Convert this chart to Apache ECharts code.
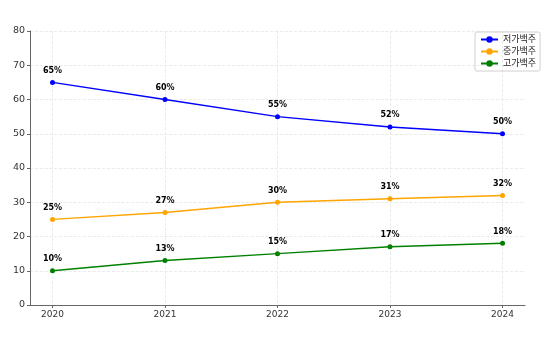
<!DOCTYPE html>
<html><head><meta charset="utf-8">
<script src="https://cdn.jsdelivr.net/npm/echarts@6/dist/echarts.min.js"></script>
<style>html,body{margin:0;padding:0;background:#fff}#c{width:553px;height:339px}</style>
</head><body><div id="c"></div>
<script>
const years = [2020, 2021, 2022, 2023, 2024];
const seriesNames = ['저가백주', '중가백주', '고가백주'];
const lowPrice = [65, 60, 55, 52, 50];
const midPrice = [25, 27, 30, 31, 32];
const highPrice = [10, 13, 15, 17, 18];
const yTicks = [0, 10, 20, 30, 40, 50, 60, 70, 80];
const colors = ['#0000ff', '#ffa500', '#008000'];
const font = '"DejaVu Sans", "Noto Sans CJK KR", sans-serif';

const chart = echarts.init(document.getElementById('c'));
function mk(name, vals, color) {
  return {
    name, type: 'line', data: years.map((y, i) => [y, vals[i]]),
    symbol: 'circle', symbolSize: 5, color,
    lineStyle: { width: 1.5, color }, itemStyle: { color },
    label: { show: true, position: 'top', distance: 5, formatter: p => p.value[1] + '%',
      color: '#000', fontWeight: 'bold', fontSize: 8, fontFamily: font },
    animation: false
  };
}
chart.setOption({
  animation: false,
  grid: { left: 30, right: 28, top: 31, bottom: 34 },
  legend: {
    left: 475, top: 32, orient: 'vertical', itemGap: 3,
    itemWidth: 17, itemHeight: 8,
    borderColor: '#d0d0d0', borderWidth: 1, borderRadius: 2, padding: [3, 4, 3, 5],
    textStyle: { fontSize: 9, fontFamily: font, color: '#222' },
    data: seriesNames
  },
  xAxis: {
    type: 'value', min: 2019.8, max: 2024.2,
    axisLine: { lineStyle: { color: '#666', width: 1 } },
    axisTick: { show: true, length: 3, lineStyle: { color: '#666' }, customValues: years },
    axisLabel: { color: '#333', fontSize: 9, fontFamily: font, customValues: years, margin: 5,
      formatter: v => String(v) },
    splitLine: { show: true, lineStyle: { color: '#e6e6e6', type: 'dashed', width: 0.8 } },
  },
  yAxis: {
    type: 'value', min: 0, max: 80, interval: 10,
    axisLine: { show: true, lineStyle: { color: '#666', width: 1 } },
    axisTick: { show: true, length: 3, lineStyle: { color: '#666' } },
    axisLabel: { color: '#333', fontSize: 9.5, fontFamily: font, margin: 5,
      formatter: v => yTicks.includes(v) ? String(v) : '' },
    splitLine: { show: true, lineStyle: { color: '#e6e6e6', type: 'dashed', width: 0.8 } }
  },
  series: [mk(seriesNames[0], lowPrice, colors[0]), mk(seriesNames[1], midPrice, colors[1]), mk(seriesNames[2], highPrice, colors[2])]
});
</script></body></html>
